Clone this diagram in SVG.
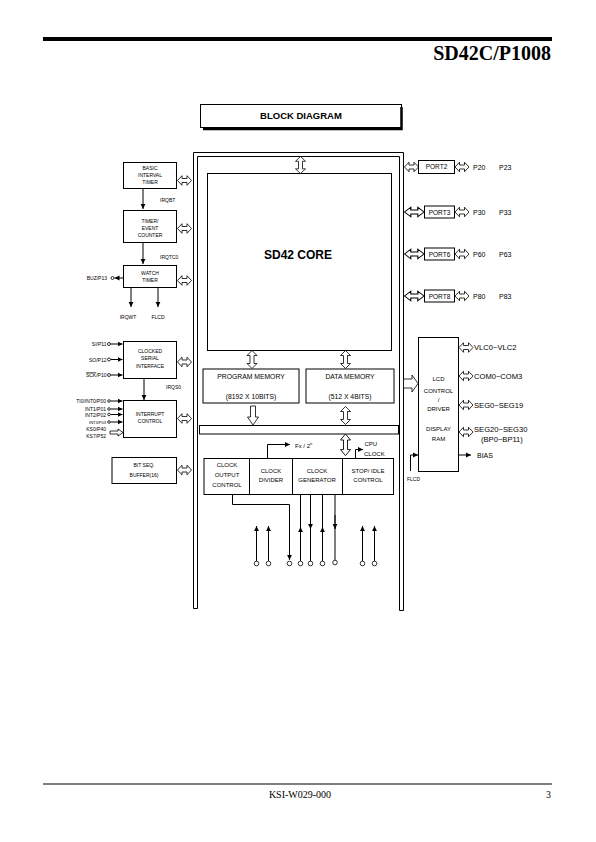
<svg xmlns="http://www.w3.org/2000/svg" width="596" height="842" viewBox="0 0 596 842">
<style>
.box{fill:#fff;stroke:#000;stroke-width:1}
.ln{fill:none;stroke:#000;stroke-width:1}
.ha{fill:#fff;stroke:#000;stroke-width:0.8}
.t{font-family:"Liberation Sans",Arial,sans-serif;fill:#000}
.s5{font-size:5px}
.s6{font-size:6px}
.s65{font-size:6.5px}
.s68{font-size:6.8px}
.s7{font-size:7px}
.s76{font-size:7.6px}
.c{text-anchor:middle}
.e{text-anchor:end}
.pin{fill:#fff;stroke:#000;stroke-width:0.8}
</style>
<defs>
<marker id="ah" markerWidth="6" markerHeight="6" refX="5" refY="3" orient="auto" markerUnits="userSpaceOnUse"><path d="M0,0.6 L5,3 L0,5.4 Z" fill="#000"/></marker>
<path id="dh" d="M0,0 L4.5,-4.8 L4.5,-2 L9.5,-2 L9.5,-4.8 L14,0 L9.5,4.8 L9.5,2 L4.5,2 L4.5,4.8 Z"/>
<path id="dv" d="M0,0 L5,5 L2,5 L2,13 L5,13 L0,18 L-5,13 L-2,13 L-2,5 L-5,5 Z"/>
<path id="sd" d="M-2.5,0 L2.5,0 L2.5,11 L5.5,11 L0,19 L-5.5,11 L-2.5,11 Z"/>
</defs>

<g id="header">
<rect x="43" y="37" width="509" height="4" fill="#000"/>
<text x="551" y="60" font-family="Liberation Serif,Times New Roman,serif" font-size="20" font-weight="bold" text-anchor="end">SD42C/P1008</text>
</g>

<g id="title">
<rect class="box" x="200.5" y="104.5" width="201" height="23"/>
<path d="M401.5,107 V129 H203" fill="none" stroke="#000" stroke-width="2.5"/>
<text class="t c" x="301" y="118.5" font-size="9.5" font-weight="bold">BLOCK DIAGRAM</text>
</g>

<g id="frame">
<path class="ln" d="M193.5,608.5 V152.5 H403.5 V610.5 H399.5 V156.5 H197.5 V608.5 Z"/>
</g>

<g id="core">
<rect class="box" x="207.5" y="173.5" width="184" height="177"/>
<text class="t c" x="298" y="259" font-size="12" font-weight="bold">SD42 CORE</text>
</g>

<g id="program-memory">
<rect class="box" x="203" y="369" width="96" height="34"/>
<text class="t c s68" x="251" y="378.5">PROGRAM MEMORY</text>
<text class="t c s68" x="251" y="399">(8192 X 10BITS)</text>
</g>
<g id="data-memory">
<rect class="box" x="306" y="369" width="88" height="34"/>
<text class="t c s68" x="350" y="378.5">DATA MEMORY</text>
<text class="t c s68" x="350" y="399">(512 X 4BITS)</text>
</g>
<g id="bus-bar">
<rect class="box" x="199.5" y="425.5" width="199" height="8.5"/>
</g>

<g id="clock-output-control">
<rect class="box" x="204" y="458.5" width="45.5" height="36"/>
<text class="t c s6" x="227" y="467">CLOCK</text>
<text class="t c s6" x="227" y="477">OUTPUT</text>
<text class="t c s6" x="227" y="487">CONTROL</text>
</g>
<g id="clock-divider">
<rect class="box" x="249.5" y="458.5" width="43" height="36"/>
<text class="t c s6" x="271" y="472.5">CLOCK</text>
<text class="t c s6" x="271" y="482">DIVIDER</text>
</g>
<g id="clock-generator">
<rect class="box" x="292.5" y="458.5" width="50" height="36"/>
<text class="t c s6" x="317" y="472.5">CLOCK</text>
<text class="t c s6" x="317" y="482">GENERATOR</text>
</g>
<g id="stop-idle-control">
<rect class="box" x="342.5" y="458.5" width="51" height="36"/>
<text class="t c s6" x="368" y="472.5">STOP/ IDLE</text>
<text class="t c s6" x="368" y="482">CONTROL</text>
</g>
<g id="fx-label">
<text class="t s6" x="295" y="447.5">Fx / 2<tspan font-size="4" dy="-2.5">n</tspan></text>
</g>
<g id="cpu-clock-label">
<text class="t s6" x="364.5" y="446">CPU</text>
<text class="t s6" x="364" y="456">CLOCK</text>
</g>

<g id="basic-interval-timer">
<rect class="box" x="123.5" y="162.5" width="53" height="26"/>
<text class="t c s5" x="150" y="170">BASIC</text>
<text class="t c s5" x="150" y="176.5">INTERVAL</text>
<text class="t c s5" x="150" y="183.5">TIMER</text>
</g>
<g id="timer-event-counter">
<rect class="box" x="123.5" y="210.5" width="53" height="32"/>
<text class="t c s5" x="150" y="222.5">TIMER/</text>
<text class="t c s5" x="150" y="229.5">EVENT</text>
<text class="t c s5" x="150" y="236.5">COUNTER</text>
</g>
<g id="watch-timer">
<rect class="box" x="123.5" y="265.5" width="53" height="22"/>
<text class="t c s5" x="150" y="274.5">WATCH</text>
<text class="t c s5" x="150" y="282">TIMER</text>
</g>
<g id="clocked-serial-interface">
<rect class="box" x="123.5" y="341.5" width="53" height="37"/>
<text class="t c s5" x="150" y="352.5">CLOCKED</text>
<text class="t c s5" x="150" y="360">SERIAL</text>
<text class="t c s5" x="150" y="367.5">INTERFACE</text>
</g>
<g id="interrupt-control">
<rect class="box" x="123.5" y="400.5" width="53" height="37"/>
<text class="t c s5" x="150" y="416">INTERRUPT</text>
<text class="t c s5" x="150" y="423">CONTROL</text>
</g>
<g id="bit-seq-buffer">
<rect class="box" x="112" y="457.5" width="64.5" height="26"/>
<text class="t c s5" x="144" y="467">BIT SEQ.</text>
<text class="t c s5" x="144" y="477">BUFFER(16)</text>
</g>

<g id="port2">
<rect class="box" x="418.5" y="160.5" width="36" height="13"/>
<text class="t c s65" x="436.5" y="169.2">PORT2</text>
<text class="t s7" x="473" y="169.5">P20</text>
<text class="t s7" x="499" y="169.5">P23</text>
</g>
<g id="port3">
<rect class="box" x="424.5" y="206" width="30" height="12"/>
<text class="t c s65" x="439.5" y="214.5">PORT3</text>
<text class="t s7" x="473" y="215">P30</text>
<text class="t s7" x="499" y="215">P33</text>
</g>
<g id="port6">
<rect class="box" x="424.5" y="248" width="30" height="12"/>
<text class="t c s65" x="439.5" y="256.5">PORT6</text>
<text class="t s7" x="473" y="257">P60</text>
<text class="t s7" x="499" y="257">P63</text>
</g>
<g id="port8">
<rect class="box" x="424.5" y="290" width="30" height="12"/>
<text class="t c s65" x="439.5" y="298.5">PORT8</text>
<text class="t s7" x="473" y="299">P80</text>
<text class="t s7" x="499" y="299">P83</text>
</g>

<g id="lcd-driver">
<rect class="box" x="418.5" y="337.5" width="40" height="134"/>
<text class="t c s6" x="438.5" y="381">LCD</text>
<text class="t c s6" x="438.5" y="392.5">CONTROL</text>
<text class="t c s6" x="438.5" y="402">/</text>
<text class="t c s6" x="438.5" y="411">DRIVER</text>
<text class="t c s6" x="438.5" y="431">DISPLAY</text>
<text class="t c s6" x="438.5" y="440.5">RAM</text>
</g>
<g id="lcd-labels">
<text class="t s76" x="474" y="350">VLC0~VLC2</text>
<text class="t s76" x="474" y="378.5">COM0~COM3</text>
<text class="t s76" x="474" y="407.5">SEG0~SEG19</text>
<text class="t s76" x="474" y="431.5">SEG20~SEG30</text>
<text class="t s76" x="481" y="441.5">(BP0~BP11)</text>
<text class="t s7" x="477" y="457.5">BIAS</text>
<text class="t s5" x="407" y="481">FLCD</text>
</g>

<g id="left-labels">
<text class="t s5" x="160" y="202">IRQBT</text>
<text class="t s5" x="160" y="259">IRQTC0</text>
<text class="t s5 e" x="107" y="280">BUZ/P13</text>
<text class="t c s5" x="128" y="319">IRQWT</text>
<text class="t c s5" x="158" y="319">FLCD</text>
<text class="t s5 e" x="106.5" y="346">SI/P11</text>
<text class="t s5 e" x="106.5" y="361.5">SO/P12</text>
<text class="t s5 e" x="106.5" y="377"><tspan text-decoration="overline">SCK</tspan>/P10</text>
<text class="t s5" x="166" y="389">IRQS0</text>
<text class="t s5 e" x="106" y="403">TI0/INT0/P00</text>
<text class="t s5 e" x="106" y="411">INT1/P01</text>
<text class="t s5 e" x="106" y="416.5">INT2/P02</text>
<text class="t e" x="106" y="423.5" font-size="4">INT3/P03</text>
<text class="t s5 e" x="106" y="430.5">KS0/P40</text>
<text class="t s5 e" x="106" y="438">KS7/P52</text>
</g>

<g id="connectors">
<use href="#dh" class="ha" transform="translate(177.5,180.5)"/>
<use href="#dh" class="ha" transform="translate(177.5,228.5)"/>
<use href="#dh" class="ha" transform="translate(177.5,280.5)"/>
<use href="#dh" class="ha" transform="translate(177.5,362)"/>
<use href="#dh" class="ha" transform="translate(177.5,418.5)"/>
<use href="#dh" class="ha" transform="translate(177.5,470)"/>
<use href="#dh" class="ha" transform="translate(404.5,167)"/>
<use href="#dh" class="ha" transform="translate(455,167)"/>
<use href="#dh" class="ha" transform="translate(404.5,212) scale(1.4,1)"/>
<use href="#dh" class="ha" transform="translate(455,212)"/>
<use href="#dh" class="ha" transform="translate(404.5,254) scale(1.4,1)"/>
<use href="#dh" class="ha" transform="translate(455,254)"/>
<use href="#dh" class="ha" transform="translate(404.5,296) scale(1.4,1)"/>
<use href="#dh" class="ha" transform="translate(455,296)"/>
<use href="#dh" class="ha" transform="translate(459,347.5)"/>
<use href="#dh" class="ha" transform="translate(459,376)"/>
<use href="#dh" class="ha" transform="translate(459,405)"/>
<use href="#dh" class="ha" transform="translate(459,432)"/>
<path class="ha" d="M403.5,379 H412 V375 L418,383.5 L412,392 V388 H403.5 Z"/>
<path class="ln" d="M458.5,455 H471" marker-end="url(#ah)"/>
<path class="ln" d="M410.5,471 V455 H418" marker-end="url(#ah)"/>
<use href="#dv" class="ha" transform="translate(300.5,156.5) scale(1,0.95)"/>
<use href="#dv" class="ha" transform="translate(252,350.5)"/>
<use href="#dv" class="ha" transform="translate(345.5,350.5)"/>
<use href="#sd" class="ha" transform="translate(253,406)"/>
<use href="#dv" class="ha" transform="translate(345.5,406.5)"/>
<use href="#dv" class="ha" transform="translate(345.5,434) scale(1,1.2)"/>
<path class="ln" d="M267.5,458.5 V444.5 H290" marker-end="url(#ah)"/>
<path class="ln" d="M355.5,458.5 V449.5 H363" marker-end="url(#ah)"/>
<path class="ln" d="M143,188.5 V209" marker-end="url(#ah)"/>
<path class="ln" d="M143,242.5 V264" marker-end="url(#ah)"/>
<path class="ln" d="M131,287.5 V307" marker-end="url(#ah)"/>
<path class="ln" d="M158,287.5 V307" marker-end="url(#ah)"/>
<path class="ln" d="M144,378.5 V400" marker-end="url(#ah)"/>
<path class="ln" d="M123,278 H114.5" marker-end="url(#ah)"/>
<circle class="pin" cx="112.5" cy="278" r="1.5"/>
<path class="ln" d="M110.5,344 H122.5" marker-end="url(#ah)"/>
<circle class="pin" cx="109" cy="344" r="1.5"/>
<path class="ln" d="M110.5,359.5 H122.5" marker-end="url(#ah)"/>
<circle class="pin" cx="109" cy="359.5" r="1.5"/>
<path class="ln" d="M110.5,375 H122.5" marker-end="url(#ah)"/>
<circle class="pin" cx="109" cy="375" r="1.5"/>
<path class="ln" d="M110.5,401 H122.5" marker-end="url(#ah)"/>
<circle class="pin" cx="109" cy="401" r="1.3"/>
<path class="ln" d="M110.5,409 H122.5" marker-end="url(#ah)"/>
<circle class="pin" cx="109" cy="409" r="1.3"/>
<path class="ln" d="M110.5,414.5 H122.5" marker-end="url(#ah)"/>
<circle class="pin" cx="109" cy="414.5" r="1.3"/>
<path class="ln" d="M110.5,422 H122.5" marker-end="url(#ah)"/>
<circle class="pin" cx="109" cy="422" r="1.3"/>
<path class="ha" d="M110,431 H118 V429 L123,432.5 L118,436 V434 H110 Z"/>
<path class="ln" d="M232.5,494.5 V504.5 H289.5 V560" marker-end="url(#ah)"/>
<path class="ln" d="M256.5,561 V526" marker-end="url(#ah)"/>
<path class="ln" d="M268.5,561 V526" marker-end="url(#ah)"/>
<path class="ln" d="M300.5,494.5 V561"/>
<path class="ln" d="M300.5,540 V527" marker-end="url(#ah)"/>
<path class="ln" d="M310.5,494.5 V561"/>
<path class="ln" d="M310.5,515 V529" marker-end="url(#ah)"/>
<path class="ln" d="M322.5,494.5 V561"/>
<path class="ln" d="M322.5,540 V527" marker-end="url(#ah)"/>
<path class="ln" d="M335,494.5 V560"/>
<path class="ln" d="M335,515 V529" marker-end="url(#ah)"/>
<path class="ln" d="M362.5,561 V526" marker-end="url(#ah)"/>
<path class="ln" d="M374.5,561 V526" marker-end="url(#ah)"/>
<circle class="pin" cx="256.5" cy="563.5" r="2.3"/>
<circle class="pin" cx="268.5" cy="563.5" r="2.3"/>
<circle class="pin" cx="289.5" cy="563.5" r="2.3"/>
<circle class="pin" cx="300.5" cy="563.5" r="2.3"/>
<circle class="pin" cx="310.5" cy="563.5" r="2.3"/>
<circle class="pin" cx="322.5" cy="563.5" r="2.3"/>
<circle class="pin" cx="335" cy="562.5" r="2.3"/>
<circle class="pin" cx="362.5" cy="563.5" r="2.3"/>
<circle class="pin" cx="374.5" cy="563.5" r="2.3"/>
</g>

<g id="footer">
<rect x="43" y="783.5" width="509" height="1" fill="#000"/>
<text x="300" y="798" font-family="Liberation Serif,Times New Roman,serif" font-size="10" text-anchor="middle">KSI-W029-000</text>
<text x="551" y="798" font-family="Liberation Serif,Times New Roman,serif" font-size="10" text-anchor="end">3</text>
</g>
</svg>
